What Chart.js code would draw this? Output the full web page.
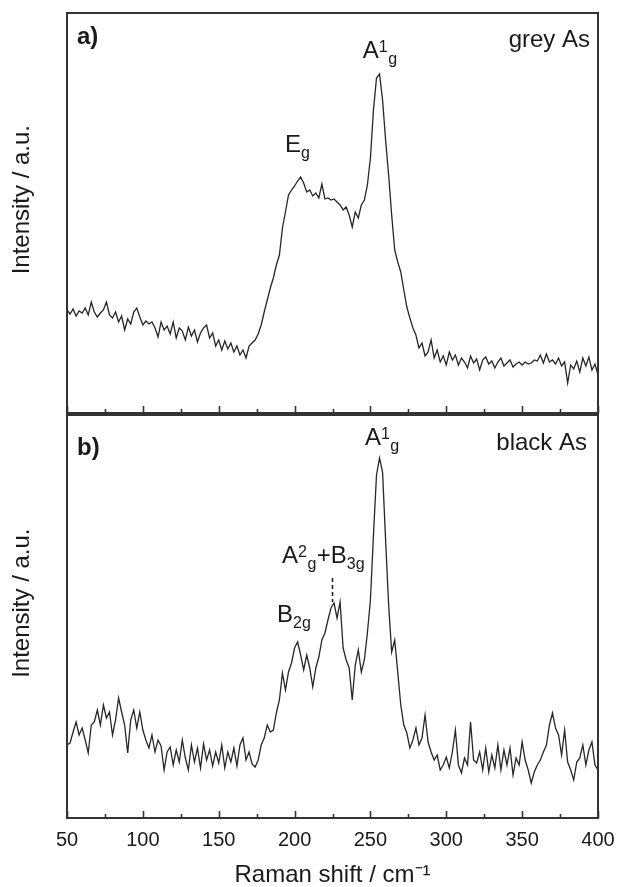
<!DOCTYPE html>
<html>
<head>
<meta charset="utf-8">
<script src="https://cdn.jsdelivr.net/npm/chart.js@4"></script>
<style>
  body { margin: 0; background: #fff; }
  .wrap { position: relative; width: 618px; height: 887px; overflow: hidden; }
  canvas { position: absolute; left: 0; }
  #greyChart { top: 0; }
  #blackChart { top: 413px; }
</style>
</head>
<body>
<div class="wrap">
  <canvas id="greyChart" width="618" height="415"></canvas>
  <canvas id="blackChart" width="618" height="474"></canvas>
</div>
<script>
// Raman shift (cm-1) sampling
const ramanShift = [
  50, 52, 54, 56, 58, 60, 62, 64, 66, 68,
  70, 72, 74, 76, 78, 80, 82, 84, 86, 88,
  90, 92, 94, 96, 98, 100, 102, 104, 106, 108,
  110, 112, 114, 116, 118, 120, 122, 124, 126, 128,
  130, 132, 134, 136, 138, 140, 142, 144, 146, 148,
  150, 152, 154, 156, 158, 160, 162, 164, 166, 168,
  170, 172, 174, 176, 178, 180, 182, 184, 186, 188,
  190, 192, 194, 196, 198, 200, 202, 204, 206, 208,
  210, 212, 214, 216, 218, 220, 222, 224, 226, 228,
  230, 232, 234, 236, 238, 240, 242, 244, 246, 248,
  250, 252, 254, 256, 258, 260, 262, 264, 266, 268,
  270, 272, 274, 276, 278, 280, 282, 284, 286, 288,
  290, 292, 294, 296, 298, 300, 302, 304, 306, 308,
  310, 312, 314, 316, 318, 320, 322, 324, 326, 328,
  330, 332, 334, 336, 338, 340, 342, 344, 346, 348,
  350, 352, 354, 356, 358, 360, 362, 364, 366, 368,
  370, 372, 374, 376, 378, 380, 382, 384, 386, 388,
  390, 392, 394, 396, 398, 400
];

// a) grey As intensity (a.u.)
const greyAs = [
  103, 99, 104, 97, 102, 100, 105, 98, 111, 101,
  96, 100, 103, 111, 98, 95, 101, 91, 97, 83,
  94, 89, 101, 105, 96, 88, 92, 89, 91, 85,
  76, 91, 83, 87, 79, 91, 75, 85, 82, 73,
  86, 77, 83, 71, 80, 85, 88, 75, 80, 67,
  73, 63, 72, 64, 70, 61, 67, 58, 63, 55,
  67, 70, 73, 79, 88, 101, 113, 125, 135, 148,
  158, 185, 201, 218, 223, 227, 232, 236, 230, 221,
  223, 217, 220, 215, 229, 214, 215, 213, 214, 211,
  208, 203, 206, 198, 186, 201, 195, 208, 213, 228,
  255, 303, 335, 339, 313, 273, 238, 198, 163, 151,
  141, 123, 106, 95, 85, 78, 65, 70, 57, 61,
  73, 55, 63, 51, 57, 48, 61, 53, 58, 48,
  55, 51, 45, 57, 50, 54, 43, 53, 56, 49,
  52, 45, 51, 55, 47, 50, 53, 46, 49, 51,
  48, 51, 49, 50, 53, 52, 58, 50, 59, 51,
  53, 49, 55, 47, 51, 30, 48, 44, 52, 41,
  55, 47, 56, 43, 49, 38
];

// b) black As intensity (a.u.)
const blackAs = [
  73, 75, 86, 96, 83, 90, 78, 65, 93, 96,
  108, 93, 113, 100, 106, 83, 98, 120, 106, 93,
  65, 98, 108, 90, 106, 88, 78, 70, 83, 66,
  78, 72, 48, 66, 71, 53, 68, 56, 78, 60,
  48, 73, 56, 70, 50, 74, 58, 68, 52, 66,
  55, 73, 50, 66, 56, 70, 52, 73, 80, 58,
  66, 54, 51, 58, 73, 80, 93, 86, 88, 105,
  118, 145, 128, 146, 155, 170, 176, 163, 148, 163,
  150, 131, 150, 161, 178, 185, 198, 210, 215, 200,
  216, 170, 158, 150, 118, 153, 168, 146, 158, 185,
  218, 283, 343, 360, 346, 278, 213, 166, 178, 146,
  113, 93, 85, 70, 78, 90, 73, 80, 103, 76,
  66, 58, 63, 48, 53, 61, 50, 66, 88, 53,
  45, 60, 53, 96, 58, 55, 66, 48, 70, 46,
  63, 50, 73, 48, 68, 53, 70, 43, 60, 53,
  76, 58, 48, 35, 46, 53, 58, 66, 73, 93,
  105, 90, 83, 63, 88, 56, 48, 38, 56, 60,
  73, 53, 68, 76, 53, 48
];

const majorTicks = [50, 100, 150, 200, 250, 300, 350, 400];
const minorTicks = [75, 125, 175, 225, 275, 325, 375];

const FONT = '"Liberation Sans", Arial, sans-serif';
const INK = '#1a1a1a';

// draws text runs like A^1_g one after another
function drawRuns(ctx, x, y, runs) {
  let cx = x;
  runs.forEach(r => {
    const small = r.sup || r.sub;
    ctx.font = (small ? 16 : 24) + 'px ' + FONT;
    const dy = r.sup ? -6 : (r.sub ? 6 : 0);
    ctx.fillText(r.t, cx, y + dy);
    cx += ctx.measureText(r.t).width + (small ? 0.5 : 0);
  });
}

const panelDecor = {
  id: 'panelDecor',
  afterDatasetsDraw(chart, args, opts) {
    const { ctx, chartArea: a, scales: { x, y } } = chart;
    ctx.save();
    ctx.strokeStyle = '#333';
    ctx.lineWidth = 2;
    ctx.strokeRect(a.left, a.top, a.right - a.left, a.bottom - a.top);

    // inward ticks on the bottom axis
    ctx.lineWidth = 1.6;
    const tick = (v, len) => {
      const px = Math.round(x.getPixelForValue(v)) + 0.5;
      ctx.beginPath();
      ctx.moveTo(px, a.bottom);
      ctx.lineTo(px, a.bottom - len);
      ctx.stroke();
    };
    majorTicks.forEach(v => tick(v, 7));
    minorTicks.forEach(v => tick(v, 4));

    ctx.fillStyle = INK;
    ctx.textBaseline = 'alphabetic';
    ctx.textAlign = 'left';
    ctx.font = 'bold 24px ' + FONT;
    ctx.fillText(opts.tag, a.left + 10, a.top + opts.tagDy);
    ctx.textAlign = 'right';
    ctx.font = '24px ' + FONT;
    ctx.fillText(opts.name, a.right - opts.nameDx, a.top + opts.nameDy);

    ctx.textAlign = 'left';
    opts.peaks.forEach(p => {
      drawRuns(ctx, x.getPixelForValue(p.x), y.getPixelForValue(p.y), p.runs);
    });

    if (opts.marker) {
      const m = opts.marker;
      const px = x.getPixelForValue(m.x);
      ctx.setLineDash([4, 3]);
      ctx.lineWidth = 1.6;
      ctx.strokeStyle = '#222';
      ctx.beginPath();
      ctx.moveTo(px, y.getPixelForValue(m.from));
      ctx.lineTo(px, y.getPixelForValue(m.to));
      ctx.stroke();
    }
    ctx.restore();
  }
};

function makeChart(id, values, yMax, showLabels, decor, padTop, xHeight) {
  const points = ramanShift.map((v, i) => ({ x: v, y: values[i] }));
  return new Chart(document.getElementById(id), {
    type: 'line',
    data: {
      datasets: [{
        data: points,
        borderColor: '#262626',
        borderWidth: 1.3,
        pointRadius: 0,
        tension: 0,
        fill: false
      }]
    },
    options: {
      responsive: false,
      animation: false,
      layout: { padding: { top: padTop, right: 20, left: 0, bottom: 0 } },
      plugins: {
        legend: { display: false },
        tooltip: { enabled: false },
        panelDecor: decor
      },
      scales: {
        x: {
          type: 'linear',
          min: 50,
          max: 400,
          grid: { display: false, drawTicks: false },
          border: { display: false },
          ticks: {
            display: showLabels,
            stepSize: 50,
            padding: 10,
            color: INK,
            font: { family: FONT, size: 20 }
          },
          title: {
            display: showLabels,
            text: 'Raman shift / cm\u207B\u00B9',
            color: INK,
            font: { family: FONT, size: 24, lineHeight: 1 },
            padding: { top: 0, bottom: 0 }
          },
          afterFit(scale) {
            scale.height = xHeight;
            scale.paddingLeft = 0;
            scale.paddingRight = 0;
          }
        },
        y: {
          min: 0,
          max: yMax,
          grid: { display: false, drawTicks: false },
          border: { display: false },
          ticks: { display: false },
          title: {
            display: true,
            text: '    Intensity / a.u.',
            color: INK,
            font: { family: FONT, size: 24, lineHeight: 1 },
            padding: { top: 10, bottom: 0 }
          },
          afterFit(scale) { scale.width = 67; }
        }
      }
    },
    plugins: [panelDecor]
  });
}

makeChart('greyChart', greyAs, 400, false, {
  tag: 'a)', tagDy: 31,
  name: 'grey As', nameDx: 8, nameDy: 34,
  peaks: [
    { x: 193.7, y: 261, runs: [{ t: 'E' }, { t: 'g', sub: true }] },
    { x: 245, y: 355, runs: [{ t: 'A' }, { t: '1', sup: true }, { t: 'g', sub: true }] }
  ]
}, 13, 2);

makeChart('blackChart', blackAs, 403, true, {
  tag: 'b)', tagDy: 40,
  name: 'black As', nameDx: 11, nameDy: 35,
  peaks: [
    { x: 246.4, y: 373, runs: [{ t: 'A' }, { t: '1', sup: true }, { t: 'g', sub: true }] },
    { x: 191.7, y: 255, runs: [{ t: 'A' }, { t: '2', sup: true }, { t: 'g', sub: true }, { t: '+' }, { t: 'B' }, { t: '3g', sub: true }] },
    { x: 188.4, y: 196, runs: [{ t: 'B' }, { t: '2g', sub: true }] }
  ],
  marker: { x: 225, from: 240, to: 216 }
}, 2, 69);
</script>
</body>
</html>
